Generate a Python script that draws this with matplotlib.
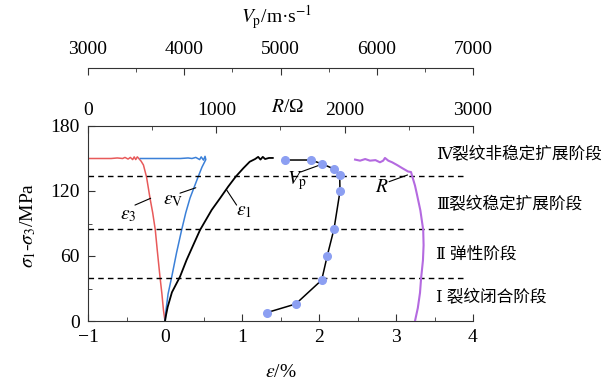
import matplotlib
matplotlib.use('Agg')
import matplotlib.pyplot as plt
from matplotlib.ticker import MultipleLocator

plt.rcParams['font.family'] = ['Liberation Serif', 'DejaVu Serif', 'Noto Sans CJK SC']
plt.rcParams['mathtext.fontset'] = 'stix'
plt.rcParams['axes.unicode_minus'] = True

# ---- dados ----
# epsilon_3 (deformação lateral)
eps3_strain = [0, -0.02, -0.04, -0.065, -0.10, -0.126, -0.16, -0.195, -0.24, -0.28, -0.31, -0.34,
               -0.36, -0.38, -0.40, -0.42, -0.45, -0.48, -0.52, -0.55, -0.62, -0.70, -0.85, -1.0]
eps3_stress = [0, 10, 25, 40.6, 65, 84, 100, 113.5, 133, 144, 147.5, 150,
               151.5, 149, 151.5, 149, 151, 149.5, 151, 150, 150.5, 150, 150, 150]

# epsilon_V (deformação volumétrica)
epsv_strain = [0, 0.013, 0.04, 0.087, 0.15, 0.216, 0.27, 0.325, 0.43, 0.48, 0.53, 0.52, 0.50,
               0.47, 0.45, 0.40, 0.35, 0.30, 0.20, 0.10, 0.0, -0.10, -0.20, -0.32]
epsv_stress = [0, 10, 25, 40.6, 63, 84, 100, 113.5, 133, 142, 149, 152, 148.5,
               151.5, 149, 151, 150, 150.5, 150, 150, 150, 150, 150, 150]

# epsilon_1 (deformação axial)
eps1_strain = [0, 0.012, 0.035, 0.09, 0.195, 0.28, 0.377, 0.455, 0.606, 0.714, 0.82, 0.918,
               1.017, 1.10, 1.17, 1.21, 1.24, 1.27, 1.30, 1.35, 1.40]
eps1_stress = [0, 5, 13, 26.5, 40.9, 56.3, 71.7, 84, 102.5, 113.2, 124, 133.2,
               141, 147, 149.5, 151.5, 149, 151.5, 149.5, 150.5, 150.5]

# velocidade da onda P
vp_values = [4857, 5158, 5428, 5486, 5556, 5618, 5615, 5556, 5434, 5314, 5047]
vp_stress = [7.7, 15.7, 37.8, 60.3, 85, 119.7, 134.5, 140.3, 145, 148.6, 148.6]

# resistividade R
r_values = [2081, 2120, 2160, 2197, 2240, 2275, 2300, 2314, 2340, 2370, 2408, 2450, 2494,
            2517, 2528, 2548, 2563, 2590, 2612, 2615, 2610, 2596, 2587, 2570, 2548]
r_stress = [149, 148, 149.5, 148, 148.5, 146.5, 148, 150.5, 148, 146.5, 144, 141, 138,
            137.5, 133, 125, 117, 102, 84, 70, 56, 40, 26, 12, 0]

# limites dos estágios
stage_levels = [40, 85, 134]
stage_labels = ['Ⅳ裂纹非稳定扩展阶段', 'Ⅲ裂纹稳定扩展阶段', 'Ⅱ 弹性阶段', 'Ⅰ 裂纹闭合阶段']
stage_label_y = [153, 107, 61, 21]

W, H = 611, 384
fig = plt.figure(figsize=(W / 100, H / 100), dpi=100)
ax = fig.add_axes([88 / W, 63 / H, 385 / W, 195 / H])

spine_color = '#333333'
fs = 14

ax.plot(eps3_strain, eps3_stress, color='#e85a5a', lw=1.1)
ax.plot(epsv_strain, epsv_stress, color='#3b80d8', lw=1.1)
ax.plot(eps1_strain, eps1_stress, color='black', lw=1.3)

ax.hlines(stage_levels, -1, 3.87, colors='black', linestyles=(0, (4, 3)), lw=1)

ax.set_xlim(-1, 4)
ax.set_ylim(0, 180)
ax.xaxis.set_major_locator(MultipleLocator(1))
ax.xaxis.set_minor_locator(MultipleLocator(0.5))
ax.yaxis.set_major_locator(MultipleLocator(60))
ax.yaxis.set_minor_locator(MultipleLocator(30))
ax.tick_params(which='both', direction='in', labelsize=fs, color=spine_color, pad=6)
ax.tick_params(which='major', length=5)
ax.tick_params(which='minor', length=3)
ax.tick_params(top=False, right=False)
ax.spines['right'].set_visible(False)
ax.spines['top'].set_visible(False)
for s in ['left', 'bottom']:
    ax.spines[s].set_color(spine_color)

ax.text(0.5, -0.265, r'$\varepsilon$/%', transform=ax.transAxes, ha='center', va='center', fontsize=fs)
ax.text(-0.156, 0.49, r'$\sigma_1$-$\sigma_3$/MPa', transform=ax.transAxes, ha='center', va='center',
        rotation=90, fontsize=fs)

# eixo R (topo)
ax_r = ax.twiny()
ax_r.plot(r_values, r_stress, color='#b46ae0', lw=1.5)
ax_r.set_xlim(0, 3000)
ax_r.xaxis.set_major_locator(MultipleLocator(1000))
ax_r.xaxis.set_minor_locator(MultipleLocator(500))
ax_r.tick_params(which='both', direction='in', labelsize=fs, color=spine_color, pad=5)
ax_r.tick_params(which='major', length=5)
ax_r.tick_params(which='minor', length=3)
for s in ['left', 'right', 'bottom']:
    ax_r.spines[s].set_visible(False)
ax_r.spines['top'].set_color(spine_color)
ax.text(0.517, 1.095, r'$R$/Ω', transform=ax.transAxes, ha='center', va='center', fontsize=fs)

# eixo Vp (topo, deslocado)
ax_v = ax.twiny()
ax_v.plot(vp_values, vp_stress, color='black', lw=1.1, marker='o', markersize=5.5,
          markerfacecolor='#8c9ff2', markeredgecolor='#8c9ff2')
ax_v.set_xlim(3000, 7000)
ax_v.spines['top'].set_position(('axes', 1.297))
ax_v.xaxis.set_major_locator(MultipleLocator(1000))
ax_v.xaxis.set_minor_locator(MultipleLocator(500))
ax_v.tick_params(which='both', direction='in', labelsize=fs, color=spine_color, pad=7)
ax_v.tick_params(which='major', length=5)
ax_v.tick_params(which='minor', length=3)
for s in ['left', 'right', 'bottom']:
    ax_v.spines[s].set_visible(False)
ax_v.spines['top'].set_color(spine_color)
ax.text(0.49, 1.56, r'$V_\mathrm{p}$/m·s$^{-1}$', transform=ax.transAxes, ha='center', va='center',
        fontsize=fs)

# rótulos das curvas com linhas de chamada
rotulos = [
    (r'$\varepsilon_3$', (-0.48, 97.0), (-0.39, 107), (-0.186, 113.3)),
    (r'$\varepsilon_\mathrm{V}$', (0.10, 111.0), (0.195, 118), (0.40, 123)),
    (r'$\varepsilon_1$', (1.02, 101.5), (0.80, 121), (0.93, 107)),
    (r'$V_\mathrm{p}$', (1.72, 130.0), (1.76, 137.5), (2.035, 144.6)),
    (r'$R$', (2.82, 123.0), (2.91, 128.6), (3.15, 134.8)),
]
for txt, pos, ini, fim in rotulos:
    ax.text(pos[0], pos[1], txt, fontsize=fs, ha='center', va='center')
    ax.annotate('', xy=fim, xytext=ini,
                arrowprops=dict(arrowstyle='-', lw=0.8, color='black', shrinkA=0, shrinkB=0))

# estágios
for lbl, yy in zip(stage_labels, stage_label_y):
    ax.text(3.52, yy, lbl, fontsize=12, ha='left', va='center', clip_on=False)

fig.savefig('out.png', dpi=100)
